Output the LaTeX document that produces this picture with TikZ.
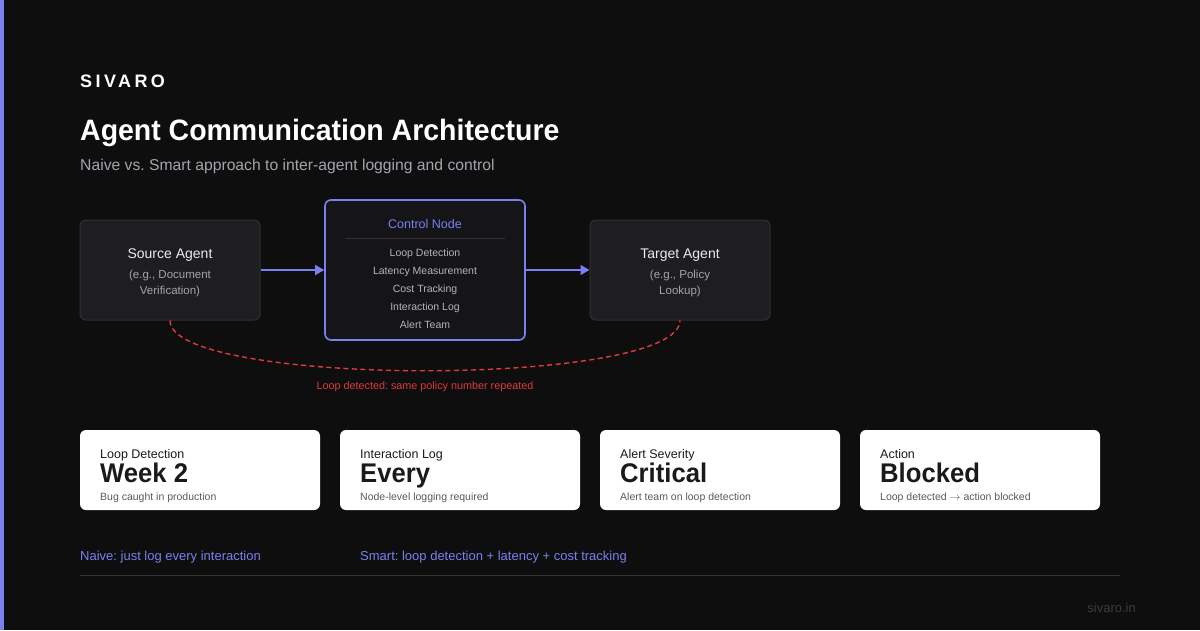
\documentclass[tikz,border=0pt]{standalone}
\usepackage{fontspec}
\setmainfont{Liberation Sans}
\usetikzlibrary{calc,arrows.meta}
\frenchspacing

\definecolor{bgcol}{HTML}{0E0E0F}
\definecolor{accent}{HTML}{7B7FEF}
\definecolor{boxfill}{HTML}{1E1E21}
\definecolor{boxline}{HTML}{303034}
\definecolor{ctrlfill}{HTML}{151517}
\definecolor{softgray}{HTML}{A4A4AC}
\definecolor{itemgray}{HTML}{B4B4BA}
\definecolor{alertred}{HTML}{E0393E}
\definecolor{inkdark}{HTML}{1A1A1A}
\definecolor{inkmid}{HTML}{5A5A5E}
\definecolor{rulegray}{HTML}{333336}
\definecolor{faint}{HTML}{3C3C3F}

\newcommand{\fsz}[1]{\fontsize{#1}{#1}\selectfont}

\tikzset{
  agentbox/.style={draw=boxline, fill=boxfill, line width=1pt, rounded corners=6pt,
    minimum width=180pt, minimum height=100pt, inner sep=0pt},
  ctrlbox/.style={draw=accent, fill=ctrlfill, line width=1.6pt, rounded corners=6pt,
    minimum width=200pt, minimum height=140pt, inner sep=0pt},
  card/.style={fill=white, rounded corners=6pt, minimum width=240pt, minimum height=80pt, inner sep=0pt},
  flowarrow/.style={accent, line width=1.5pt, -{Triangle[length=9pt,width=10pt]}},
  loopline/.style={alertred, line width=1.4pt, dash pattern=on 5pt off 3.5pt},
  txt/.style={inner sep=0pt, anchor=base},
  txtl/.style={inner sep=0pt, anchor=base west},
}

\begin{document}
\begin{tikzpicture}[x=1pt,y=-1pt]
\useasboundingbox (0,0) rectangle (1200,630);
\fill[bgcol] (0,0) rectangle (1200,630);
\fill[accent] (0,0) rectangle (4,630);

% header
\node[txtl, white, font=\fsz{18}\bfseries\addfontfeature{LetterSpace=19}] (brand) at (80,87) {SIVARO};
\node[txtl, white, font=\fsz{29.5}\bfseries\addfontfeature{FakeStretch=0.965}] (title) at (80,140) {Agent Communication Architecture};
\node[txtl, softgray, font=\fsz{15.7}] (subtitle) at (80,170) {Naive vs. Smart approach to inter-agent logging and control};

% agents and control node
\node[agentbox] (src) at (170,270) {};
\node[ctrlbox] (ctrl) at (425,270) {};
\node[agentbox] (tgt) at (680,270) {};

\node[txt, white!92!black, font=\fsz{14}] (srcname) at (170,258) {Source Agent};
\node[txt, softgray, font=\fsz{11.5}] (srcsub1) at (170,278) {(e.g., Document};
\node[txt, softgray, font=\fsz{11.5}] (srcsub2) at (170,294) {Verification)};

\node[txt, white!92!black, font=\fsz{14}] (tgtname) at (680,258) {Target Agent};
\node[txt, softgray, font=\fsz{11.5}] (tgtsub1) at (680,278) {(e.g., Policy};
\node[txt, softgray, font=\fsz{11.5}] (tgtsub2) at (680,294) {Lookup)};

\node[txt, accent, font=\fsz{12.5}] (ctrlname) at (425,228) {Control Node};
\coordinate (divl) at (345,238);
\coordinate (divr) at (505,238);
\draw[rulegray, line width=1pt] (divl) -- (divr);
\foreach \y/\item [count=\i] in {256/Loop Detection, 274/Latency Measurement, 292/Cost Tracking, 310/Interaction Log, 328/Alert Team}
  \node[txt, itemgray, font=\fsz{10.5}] (item\i) at (425,\y) {\item};

\draw[flowarrow] (src.east) -- (ctrl.west);
\draw[flowarrow] (ctrl.east) -- (tgt.west);

\draw[loopline] (src.south) .. controls ($(src.south)+(0,67)$) and ($(tgt.south)+(0,67)$) .. (tgt.south);
\node[txt, alertred, font=\fsz{10.8}] (looptext) at (425,389) {Loop detected: same policy number repeated};

% metric cards
\foreach \cx/\lab/\val/\desc [count=\i] in {
  200/Loop Detection/Week 2/Bug caught in production,
  460/Interaction Log/Every/Node-level logging required,
  720/Alert Severity/Critical/Alert team on loop detection,
  980/Action/Blocked/Loop detected {$\rightarrow$} action blocked}{
  \node[card] (card\i) at (\cx,470) {};
  \node[txtl, inkdark, font=\fsz{12.5}] (cardlab\i) at (\cx-100,458) {\lab};
  \node[txtl, inkdark, font=\fsz{27}\bfseries\addfontfeature{FakeStretch=0.95}] (cardval\i) at (\cx-100,482) {\val};
  \node[txtl, inkmid, font=\fsz{10.5}] (carddesc\i) at (\cx-100,500) {\desc};
}

% footer
\node[txtl, accent, font=\fsz{13}] (naive) at (80,560) {Naive: just log every interaction};
\node[txtl, accent, font=\fsz{13}] (smart) at (360,560) {Smart: loop detection + latency + cost tracking};
\coordinate (rulel) at (80,575);
\coordinate (ruler) at (1120,575);
\draw[rulegray, line width=1pt] (rulel) -- (ruler);
\node[txt, faint, font=\fsz{13}, anchor=base east] (site) at (1136,612) {sivaro.in};

\end{tikzpicture}
\end{document}
